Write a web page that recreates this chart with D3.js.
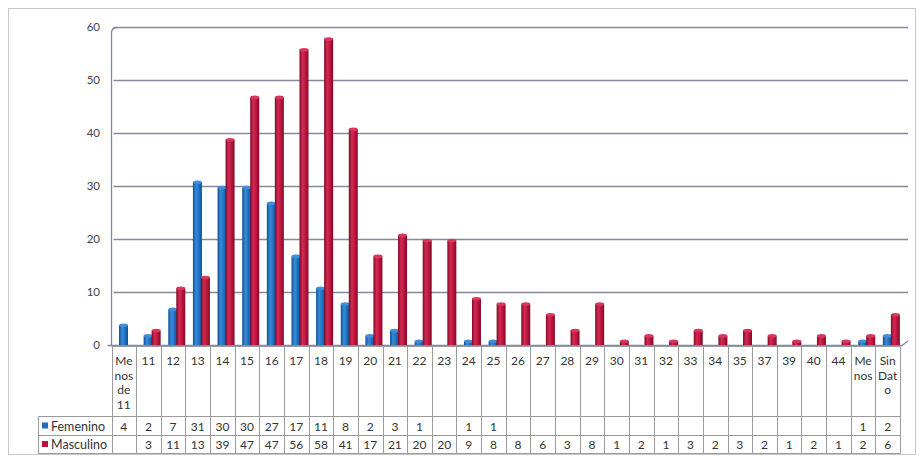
<!DOCTYPE html>
<html>
<head>
<meta charset="utf-8">
<script src="https://cdn.jsdelivr.net/npm/d3@7"></script>
<style>
  html, body { margin: 0; padding: 0; background: #fff; }
  svg { display: block; }
  text { font-family: Lato, "Open Sans", sans-serif; }
</style>
</head>
<body>
<svg id="chart" width="921" height="457"></svg>
<script>
const categories = ["Menos de 11","11","12","13","14","15","16","17","18","19","20","21","22","23","24","25","26","27","28","29","30","31","32","33","34","35","37","39","40","44","Menos","Sin Dato"];
const categoryLines = [["Me","nos","de","11"],["11"],["12"],["13"],["14"],["15"],["16"],["17"],["18"],["19"],["20"],["21"],["22"],["23"],["24"],["25"],["26"],["27"],["28"],["29"],["30"],["31"],["32"],["33"],["34"],["35"],["37"],["39"],["40"],["44"],["Me","nos"],["Sin","Dat","o"]];
const femenino = [4,2,7,31,30,30,27,17,11,8,2,3,1,null,1,1,null,null,null,null,null,null,null,null,null,null,null,null,null,null,1,2];
const masculino = [null,3,11,13,39,47,47,56,58,41,17,21,20,20,9,8,8,6,3,8,1,2,1,3,2,3,2,1,2,1,2,6];
const seriesNames = ["Femenino","Masculino"];
const yTicks = [0,10,20,30,40,50,60];

const svg = d3.select("#chart");
const left = 111.5, right = 900, y0 = 345, yTop = 27;
const x = d3.scaleBand().domain(categories).range([left, right]).padding(0);
const y = d3.scaleLinear().domain([0, 60]).range([y0, yTop]);

const defs = svg.append("defs");
function grad(id, dark, mid, light) {
  const g = defs.append("linearGradient").attr("id", id).attr("x1", "0").attr("x2", "1").attr("y1", "0").attr("y2", "0");
  g.append("stop").attr("offset", "0%").attr("stop-color", dark);
  g.append("stop").attr("offset", "35%").attr("stop-color", light);
  g.append("stop").attr("offset", "70%").attr("stop-color", mid);
  g.append("stop").attr("offset", "100%").attr("stop-color", dark);
}
grad("gBlue", "#0d4f96", "#1a6ec4", "#3a8ad8");
grad("gRed", "#7e0a27", "#b8133c", "#d42a52");

svg.append("rect").attr("x", 8.5).attr("y", 8.5).attr("width", 907).attr("height", 446)
  .attr("fill", "none").attr("stroke", "#c8c8c8").attr("stroke-width", 1);

svg.append("g").selectAll("line").data(yTicks.filter(d => d > 0)).join("line")
  .attr("x1", left + 2).attr("x2", 908)
  .attr("y1", d => Math.round(y(d)) + 0.5).attr("y2", d => Math.round(y(d)) + 0.5)
  .attr("stroke", "#85879c").attr("stroke-width", 1.3);

svg.append("path")
  .attr("d", `M${left},${y0} L${left},${yTop + 6} Q${left},${yTop + 0.5} ${left + 6},${yTop + 0.5}`)
  .attr("fill", "none").attr("stroke", "#85879c").attr("stroke-width", 1.3);
svg.append("path")
  .attr("d", `M${left - 4},${y0 + 0.5} L${right + 2},${y0 + 0.5} L${right + 8},${y0 - 4}`)
  .attr("fill", "none").attr("stroke", "#85879c").attr("stroke-width", 1.3);

svg.append("g").selectAll("text").data(yTicks).join("text")
  .attr("x", 100).attr("y", d => y(d) + 4)
  .attr("text-anchor", "end").attr("font-size", 11.5).attr("fill", "#444")
  .text(d => d);

const bw = 9;
const series = [
  { name: seriesNames[0], values: femenino, off: 7.5, fill: "url(#gBlue)", top: "#3f8edb" },
  { name: seriesNames[1], values: masculino, off: 15.5, fill: "url(#gRed)", top: "#d8365c" }
];
series.forEach(s => {
  const data = categories.map((c, i) => ({ c, v: s.values[i] })).filter(d => d.v != null);
  const g = svg.append("g");
  g.selectAll("rect").data(data).join("rect")
    .attr("x", d => x(d.c) + s.off).attr("width", bw)
    .attr("y", d => y(d.v) + 1.5).attr("height", d => y0 - y(d.v) - 1.5)
    .attr("fill", s.fill);
  g.selectAll("ellipse").data(data).join("ellipse")
    .attr("cx", d => x(d.c) + s.off + bw / 2).attr("cy", d => y(d.v) + 1.5)
    .attr("rx", bw / 2).attr("ry", 1.8)
    .attr("fill", s.top);
});

const tTop = 346.5, r1 = 416.5, r2 = 435.5, tBot = 453.5, legLeft = 38.5;
const tg = svg.append("g").attr("stroke", "#9a9a9a").attr("stroke-width", 1);
const bounds = categories.map(c => x(c)).concat([x(categories[categories.length - 1]) + x.bandwidth()]);
tg.selectAll("line.v").data(bounds).join("line").attr("class", "v")
  .attr("x1", d => Math.round(d) + 0.5).attr("x2", d => Math.round(d) + 0.5)
  .attr("y1", tTop).attr("y2", tBot);
tg.append("line").attr("x1", left).attr("x2", right).attr("y1", tTop).attr("y2", tTop);
[r1, r2, tBot].forEach(yy => tg.append("line").attr("x1", legLeft).attr("x2", Math.round(right) + 0.5).attr("y1", yy).attr("y2", yy));
tg.append("line").attr("x1", legLeft).attr("x2", legLeft).attr("y1", r1).attr("y2", tBot);

const cat = svg.append("g").attr("font-size", 12).attr("fill", "#333").attr("text-anchor", "middle");
categories.forEach((c, i) => {
  const t = cat.append("text").attr("x", x(c) + x.bandwidth() / 2).attr("y", 365);
  categoryLines[i].forEach((ln, k) => {
    t.append("tspan").attr("x", x(c) + x.bandwidth() / 2).attr("dy", k === 0 ? 0 : 14.5).text(ln);
  });
});

const rows = [
  { name: seriesNames[0], values: femenino, color: "#1a6ec4", yb: 430.5 },
  { name: seriesNames[1], values: masculino, color: "#b8133c", yb: 449 }
];
rows.forEach(r => {
  svg.append("rect").attr("x", 42).attr("y", r.yb - 8).attr("width", 6).attr("height", 6).attr("fill", r.color);
  svg.append("text").attr("x", 51).attr("y", r.yb).attr("font-size", 12.5).attr("fill", "#333").text(r.name);
  svg.append("g").selectAll("text").data(categories.map((c, i) => ({ c, v: r.values[i] })).filter(d => d.v != null))
    .join("text")
    .attr("x", d => x(d.c) + x.bandwidth() / 2).attr("y", r.yb)
    .attr("text-anchor", "middle").attr("font-size", 12).attr("fill", "#333")
    .text(d => d.v);
});
</script>
</body>
</html>
